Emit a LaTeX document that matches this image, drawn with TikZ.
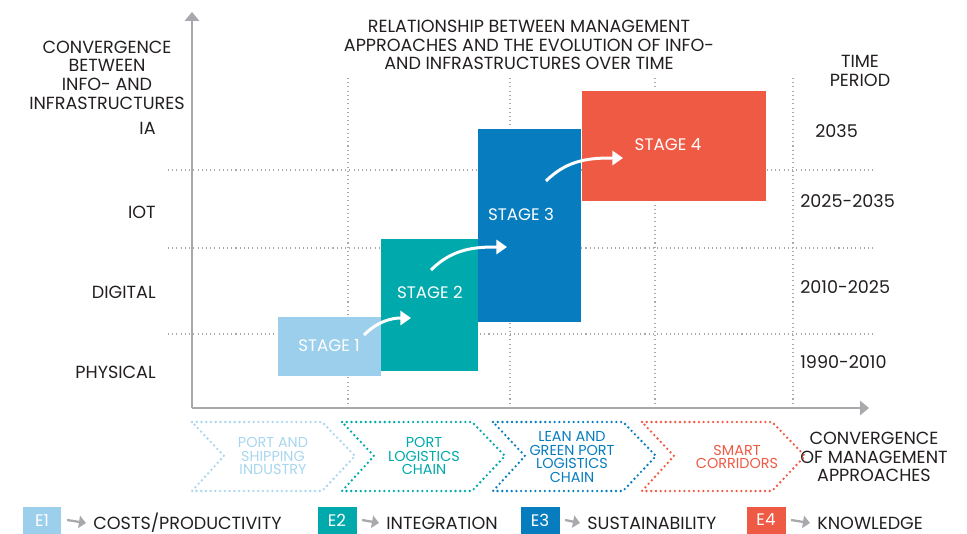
\documentclass[tikz,border=0pt]{standalone}
\usepackage{fontspec}
\setmainfont{Poppins}
\usetikzlibrary{arrows.meta}

\definecolor{stageA}{HTML}{9BCFEC}
\definecolor{stageB}{HTML}{00A9AC}
\definecolor{stageC}{HTML}{077DC0}
\definecolor{stageD}{HTML}{EF5A45}
\definecolor{chevA}{HTML}{A8D6EF}
\definecolor{axisgray}{HTML}{A7A9AC}
\definecolor{ink}{HTML}{231F20}

\tikzset{
  txt/.style={font=\fontsize{10}{10.5}\selectfont, text=ink, align=center, inner sep=0pt},
  small/.style={font=\fontsize{8.2}{7.6}\selectfont, align=center, inner sep=0pt},
  gridline/.style={axisgray, line width=0.6pt, dash pattern=on 0.6pt off 1.8pt},
  axisline/.style={axisgray, line width=1.3pt, -{Triangle[length=5pt,width=8pt]}},
  chev/.style={line width=1.5pt, dash pattern=on 0pt off 2.7pt, line cap=round, line join=round},
  flow/.style={white, line width=1.7pt, -{Triangle[length=6pt,width=8pt]}},
  stagelbl/.style={font=\fontsize{9.5}{10}\selectfont, text=white, inner sep=0pt},
  keybox/.style={minimum width=0.78cm, minimum height=0.54cm, inner sep=0pt, text=white,
    font=\fontsize{9.5}{10}\selectfont},
  keyarrow/.style={axisgray, line width=1.3pt, -{Triangle[length=4pt,width=7pt]}},
}

\begin{document}
\begin{tikzpicture}[x=0.02cm, y=-0.02cm]
                \useasboundingbox (0,0) rectangle (967,534);
                % grid
                \foreach \x in {348,510,655,793}
                  \draw[gridline] (\x,78) -- (\x,408);
                \foreach \y in {170,248,334}
                  \draw[gridline] (168,\y) -- (876,\y);
                % axes
                \coordinate (O) at (192,408);
                \coordinate (ytop) at (192,12);
                \coordinate (xend) at (869,408);
                \draw[axisline] (O) -- (ytop);
                \draw[axisline] (O) -- (xend);
                % stages
                \fill[stageA] (278,317) rectangle (381,376);
                \fill[stageB] (381,239) rectangle (478,371);
                \fill[stageC] (478,129) rectangle (581,322);
                \fill[stageD] (582,91) rectangle (766,201);
                \node[stagelbl] (s1) at (329,346) {STAGE 1};
                \node[stagelbl] (s2) at (430,292) {STAGE 2};
                \node[stagelbl] (s3) at (521,214) {STAGE 3};
                \node[stagelbl] (s4) at (668,145) {STAGE 4};
                \coordinate (a1) at (364,335);
                \coordinate (b1) at (411,318);
                \coordinate (a2) at (431,270);
                \coordinate (b2) at (507,247);
                \coordinate (a3) at (546,181);
                \coordinate (b3) at (623,158);
                \draw[flow] (a1) to[out=45,in=180] (b1);
                \draw[flow] (a2) to[out=45,in=180] (b2);
                \draw[flow] (a3) to[out=45,in=180] (b3);
                % labels
                \node[txt] (title) at (529,45) {RELATIONSHIP BETWEEN MANAGEMENT\\APPROACHES AND THE EVOLUTION OF INFO-\\AND INFRASTRUCTURES OVER TIME};
                \node[txt, font=\fontsize{10}{10.6}\selectfont] (yname) at (107,75) {CONVERGENCE\\BETWEEN\\INFO- AND\\INFRASTRUCTURES};
                \node[txt, anchor=east] (ia) at (156,128) {IA};
                \node[txt, anchor=east] (iot) at (156,212) {IOT};
                \node[txt, anchor=east] (dig) at (156,292) {DIGITAL};
                \node[txt, anchor=east] (phy) at (156,372) {PHYSICAL};
                \node[txt] (tp) at (860,71) {TIME\\PERIOD};
                \node[txt, anchor=west] (p4) at (815,131) {2035};
                \node[txt, anchor=west] (p3) at (800,201) {2025-2035};
                \node[txt, anchor=west] (p2) at (800,287) {2010-2025};
                \node[txt, anchor=west] (p1) at (800,362) {1990-2010};
                \node[txt] (xname) at (874,457) {CONVERGENCE\\OF MANAGEMENT\\APPROACHES};
                % chevrons
                \foreach \l/\c in {192/chevA,342/stageB,493/stageC,642/stageD}
                  \draw[chev,\c] (\l,422) -- ++(130,0) -- ++(33,34) -- ++(-33,35) -- (\l,491) -- ++(32,-35) -- cycle;
                \node[small, text=chevA] (m1) at (273,456) {PORT AND\\SHIPPING\\INDUSTRY};
                \node[small, text=stageB] (m2) at (424,456) {PORT\\LOGISTICS\\CHAIN};
                \node[small, text=stageC] (m3) at (572,457) {LEAN AND\\GREEN PORT\\LOGISTICS\\CHAIN};
                \node[small, text=stageD] (m4) at (737,457) {SMART\\CORRIDORS};
                % key
                \node[keybox, fill=stageA] (k1) at (42,520) {E1};
                \node[keybox, fill=stageB] (k2) at (337,520) {E2};
                \node[keybox, fill=stageC] (k3) at (540,520) {E3};
                \node[keybox, fill=stageD] (k4) at (766,520) {E4};
                \node[txt, anchor=west] (t1) at (93,523) {COSTS/PRODUCTIVITY};
                \node[txt, anchor=west] (t2) at (386,523) {INTEGRATION};
                \node[txt, anchor=west] (t3) at (587,523) {SUSTAINABILITY};
                \node[txt, anchor=west] (t4) at (817,523) {KNOWLEDGE};
                \draw[keyarrow] ([xshift=3pt]k1.east) -- ([xshift=-4pt]t1.west);
                \draw[keyarrow] ([xshift=3pt]k2.east) -- ([xshift=-4pt]t2.west);
                \draw[keyarrow] ([xshift=3pt]k3.east) -- ([xshift=-4pt]t3.west);
                \draw[keyarrow] ([xshift=3pt]k4.east) -- ([xshift=-4pt]t4.west);
            \end{tikzpicture}
\end{document}
